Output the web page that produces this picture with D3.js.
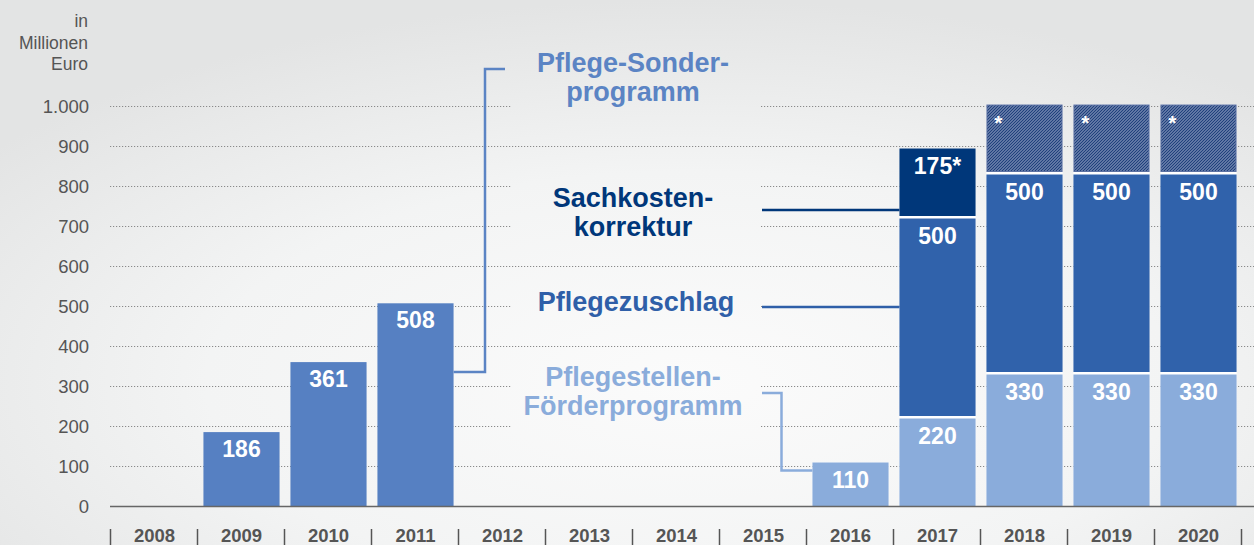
<!DOCTYPE html>
<html>
<head>
<meta charset="utf-8">
<script src="https://cdn.jsdelivr.net/npm/d3@7"></script>
<style>
  html, body { margin: 0; padding: 0; }
  body { width: 1254px; height: 545px; overflow: hidden; }
  svg { display: block; font-family: "Liberation Sans", Arial, Helvetica, sans-serif; }
</style>
</head>
<body>
<script>
// data
var years = [2008, 2009, 2010, 2011, 2012, 2013, 2014, 2015, 2016, 2017, 2018, 2019, 2020];
var sonderprogramm = [0, 186, 361, 508, 0, 0, 0, 0, 0, 0, 0, 0, 0];
var stellenFoerderung = [0, 0, 0, 0, 0, 0, 0, 0, 110, 220, 330, 330, 330];
var pflegezuschlag = [0, 0, 0, 0, 0, 0, 0, 0, 0, 500, 500, 500, 500];
var sachkosten = [0, 0, 0, 0, 0, 0, 0, 0, 0, 175, 0, 0, 0];
var sachkostenPlan = [0, 0, 0, 0, 0, 0, 0, 0, 0, 0, 175, 175, 175];
var yTicks = [0, 100, 200, 300, 400, 500, 600, 700, 800, 900, 1000];
var unitLines = ["in", "Millionen", "Euro"];

var width = 1254, height = 545;

var colors = {
  sonder: "#5680c2",
  stellen: "#8aacdb",
  zuschlag: "#3062ab",
  sachkosten: "#00377a"
};

var rows = years.map(function (yr, i) {
  return {
    year: yr,
    sonder: sonderprogramm[i],
    stellen: stellenFoerderung[i],
    zuschlag: pflegezuschlag[i],
    sachkosten: sachkosten[i],
    plan: sachkostenPlan[i]
  };
});
var keys = ["sonder", "stellen", "zuschlag", "sachkosten", "plan"];
var series = d3.stack().keys(keys)(rows);

var x = d3.scaleBand().domain(years).range([111, 1242]).paddingInner(0.125).paddingOuter(0.0625);
var y = d3.scaleLinear().domain([0, 1000]).range([506.5, 106.5]);
var step = x.step();

var svg = d3.select("body").append("svg")
  .attr("width", width)
  .attr("height", height);

var defs = svg.append("defs");
var bg = defs.append("radialGradient").attr("id", "bg")
  .attr("cx", "55%").attr("cy", "70%").attr("r", "70%");
bg.append("stop").attr("offset", "0%").attr("stop-color", "#fbfbfb");
bg.append("stop").attr("offset", "55%").attr("stop-color", "#f3f4f4");
bg.append("stop").attr("offset", "100%").attr("stop-color", "#e3e4e4");

// diagonal hatch for the planned part
var hatch = defs.append("pattern").attr("id", "hatch")
  .attr("patternUnits", "userSpaceOnUse")
  .attr("width", 3).attr("height", 3);
hatch.append("rect").attr("width", 3).attr("height", 3).attr("fill", "#9eabca");
hatch.append("path")
  .attr("d", "M-1,1 L1,-1 M0,3 L3,0 M2,4 L4,2")
  .attr("stroke", "#1f407c")
  .attr("stroke-width", 1.4);

// labels hide the grid behind them
var labelBoxes = [[50, 115], [170, 242], [284, 322], [360, 440]];
var mask = defs.append("mask").attr("id", "gridmask");
mask.append("rect").attr("width", width).attr("height", height).attr("fill", "#fff");
labelBoxes.forEach(function (b) {
  mask.append("rect").attr("x", 512).attr("y", b[0]).attr("width", 248).attr("height", b[1] - b[0]).attr("fill", "#000");
});

svg.append("rect").attr("width", width).attr("height", height).attr("fill", "url(#bg)");

// grid
svg.append("g").attr("mask", "url(#gridmask)")
  .selectAll("line")
  .data(yTicks.filter(function (d) { return d > 0; }))
  .enter().append("line")
    .attr("x1", 110).attr("x2", width)
    .attr("y1", function (d) { return y(d); })
    .attr("y2", function (d) { return y(d); })
    .attr("stroke", "#8a8a8a")
    .attr("stroke-width", 1.2)
    .attr("stroke-dasharray", "1.2 1.8");

// y labels
svg.append("g").selectAll("text")
  .data(yTicks)
  .enter().append("text")
    .attr("x", 89)
    .attr("y", function (d) { return y(d); })
    .attr("dy", "0.36em")
    .attr("text-anchor", "end")
    .attr("fill", "#555")
    .style("font-size", "18.5px")
    .text(function (d) { return d3.format(",")(d).replace(/,/g, "."); });

svg.append("g").selectAll("text")
  .data(unitLines)
  .enter().append("text")
    .attr("x", 88)
    .attr("y", function (d, i) { return 27 + i * 21.5; })
    .attr("text-anchor", "end")
    .attr("fill", "#555")
    .style("font-size", "17.5px")
    .text(function (d) { return d; });

// white backing so the gaps between stacked parts show white
svg.append("g").selectAll("rect")
  .data(rows.filter(function (r) { return (r.stellen + r.zuschlag) > 0; }))
  .enter().append("rect")
    .attr("x", function (d) { return x(d.year); })
    .attr("width", x.bandwidth())
    .attr("y", function (d) { return y(d.stellen + d.zuschlag + d.sachkosten + d.plan); })
    .attr("height", function (d) { return y(0) - y(d.stellen + d.zuschlag + d.sachkosten + d.plan); })
    .attr("fill", "#fff");

var gap = 2.5;
series.forEach(function (s) {
  var key = s.key;
  var segs = s.filter(function (d) { return d[1] - d[0] > 0; });
  var g = svg.append("g");
  g.selectAll("rect")
    .data(segs)
    .enter().append("rect")
      .attr("x", function (d) { return x(d.data.year) + (key === "plan" ? 0.5 : 0); })
      .attr("width", x.bandwidth() - (key === "plan" ? 1 : 0))
      .attr("y", function (d) { return y(d[1]) + (key === "plan" ? 0.5 : 0); })
      .attr("height", function (d) {
        var h = y(d[0]) - y(d[1]) - (d[0] > 0 ? gap : 0);
        return key === "plan" ? h - 1 : h;
      })
      .attr("fill", key === "plan" ? "url(#hatch)" : colors[key])
      .attr("stroke", key === "plan" ? "#5d72a3" : "none")
      .attr("stroke-width", 1);

  g.selectAll("text")
    .data(segs)
    .enter().append("text")
      .attr("x", function (d) { return key === "plan" ? x(d.data.year) + 12 : x(d.data.year) + x.bandwidth() / 2; })
      .attr("y", function (d) { return y(d[1]) + 25; })
      .attr("text-anchor", "middle")
      .attr("fill", "#fff")
      .style("font-size", key === "plan" ? "21px" : "23px")
      .style("font-weight", "bold")
      .text(function (d) {
        if (key === "plan") return "*";
        var v = d[1] - d[0];
        return key === "sachkosten" ? v + "*" : v;
      });
});

// zero line
svg.append("line")
  .attr("x1", 110).attr("x2", width)
  .attr("y1", y(0)).attr("y2", y(0))
  .attr("stroke", "#666").attr("stroke-width", 1.5);

// x axis: separators and years
var edges = years.map(function (d) { return x(d) - step * 0.0625; });
edges.push(x(years[years.length - 1]) + x.bandwidth() + step * 0.0625);
svg.append("g").selectAll("line")
  .data(edges)
  .enter().append("line")
    .attr("x1", function (d) { return Math.round(d - 1) + 0.5; })
    .attr("x2", function (d) { return Math.round(d - 1) + 0.5; })
    .attr("y1", 529).attr("y2", 546)
    .attr("stroke", "#555").attr("stroke-width", 1.5);

svg.append("g").selectAll("text")
  .data(years)
  .enter().append("text")
    .attr("x", function (d) { return x(d) + x.bandwidth() / 2; })
    .attr("y", 541.5)
    .attr("text-anchor", "middle")
    .attr("fill", "#555")
    .style("font-size", "18.5px")
    .style("font-weight", "bold")
    .text(function (d) { return d; });

// annotations
var annotations = [
  { lines: ["Pflege-Sonder-", "programm"], color: "#5b84c4", cx: 633, y0: 72 },
  { lines: ["Sachkosten-", "korrektur"], color: "#00377a", cx: 633, y0: 207 },
  { lines: ["Pflegezuschlag"], color: "#2f5fa8", cx: 636, y0: 311 },
  { lines: ["Pflegestellen-", "Förderprogramm"], color: "#8aacdb", cx: 633, y0: 386 }
];
annotations.forEach(function (a) {
  svg.append("g").selectAll("text")
    .data(a.lines)
    .enter().append("text")
      .attr("x", a.cx)
      .attr("y", function (d, i) { return a.y0 + i * 29; })
      .attr("text-anchor", "middle")
      .attr("fill", a.color)
      .style("font-size", "27px")
      .style("font-weight", "bold")
      .text(function (d) { return d; });
});

var line = d3.line();
var right2011 = x(2011) + x.bandwidth();
var left2016 = x(2016);
var left2017 = x(2017);
var connectors = [
  { color: "#5b84c4", pts: [[right2011, 372], [485, 372], [485, 69], [505, 69]] },
  { color: "#00377a", pts: [[762, 210], [left2017, 210]] },
  { color: "#2f5fa8", pts: [[762, 307], [left2017, 307]] },
  { color: "#8aacdb", pts: [[762, 393], [781.5, 393], [781.5, 470.5], [left2016, 470.5]] }
];
svg.append("g").selectAll("path")
  .data(connectors)
  .enter().append("path")
    .attr("d", function (d) { return line(d.pts); })
    .attr("fill", "none")
    .attr("stroke", function (d) { return d.color; })
    .attr("stroke-width", 2.5);
</script>
</body>
</html>
